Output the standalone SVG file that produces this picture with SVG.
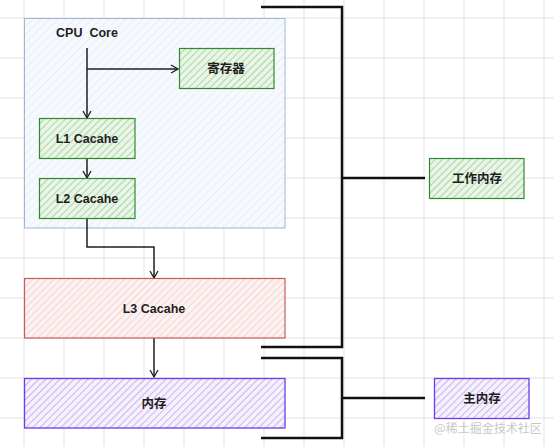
<svg xmlns="http://www.w3.org/2000/svg" width="554" height="446" viewBox="0 0 554 446">
<defs>
<style>
.grid{stroke:#e3e3e3;stroke-width:1}
.lbl{font-family:"Liberation Sans","Noto Sans CJK SC",sans-serif;font-size:12.5px;font-weight:bold;fill:#1e1e1e;text-anchor:middle;dominant-baseline:central}
.arr{fill:none;stroke:#1e1e1e;stroke-width:1.5;marker-end:url(#ah)}
.br{fill:none;stroke:#111;stroke-width:2.5;stroke-linejoin:miter}
</style>
<pattern id="hb" width="6" height="6" patternUnits="userSpaceOnUse" patternTransform="rotate(45)"><rect width="6" height="6" fill="#f6f9fd"/><line x1="0" y1="0" x2="0" y2="6" stroke="#e4ecf6" stroke-width="1.5"/></pattern>
<pattern id="hg" width="5" height="5" patternUnits="userSpaceOnUse" patternTransform="rotate(45)"><rect width="5" height="5" fill="#e9f5e6"/><line x1="0" y1="0" x2="0" y2="5" stroke="#92c98a" stroke-width="1.4"/></pattern>
<pattern id="hr" width="5" height="5" patternUnits="userSpaceOnUse" patternTransform="rotate(45)"><rect width="5" height="5" fill="#fdf2f2"/><line x1="0" y1="0" x2="0" y2="5" stroke="#f1c2c2" stroke-width="1.3"/></pattern>
<pattern id="hp" width="5" height="5" patternUnits="userSpaceOnUse" patternTransform="rotate(45)"><rect width="5" height="5" fill="#f6f0fd"/><line x1="0" y1="0" x2="0" y2="5" stroke="#b49af0" stroke-width="1.4"/></pattern>
<marker id="ah" markerWidth="10" markerHeight="10" refX="8" refY="5" orient="auto" markerUnits="userSpaceOnUse"><path d="M1,1 L8,5 L1,9" fill="none" stroke="#1e1e1e" stroke-width="1.3"/></marker>
</defs>
<rect width="554" height="446" fill="#fff"/>
<g id="grid">
<path class="grid" d="M24,0V446M64,0V446M104,0V446M144,0V446M184,0V446M224,0V446M264,0V446M304,0V446M344,0V446M384,0V446M424,0V446M464,0V446M504,0V446M544,0V446M0,18H554M0,58H554M0,98H554M0,138H554M0,178H554M0,218H554M0,258H554M0,298H554M0,338H554M0,378H554M0,418H554"/>
</g>
<g id="cpu">
<rect x="24.5" y="18.5" width="260.5" height="209.5" fill="url(#hb)" stroke="#9fb6d6" stroke-width="1"/>
<text class="lbl" x="87" y="33" xml:space="preserve" style="white-space:pre">CPU  Core</text>
</g>
<g id="connectors">
<path class="arr" d="M87,48V118"/>
<path class="arr" d="M87,69H178"/>
<path class="arr" d="M87,158V178"/>
<path class="arr" d="M87,218V247H154V278"/>
<path class="arr" d="M154,338V377"/>
<path class="br" d="M261,7H342V347H261M342,178H425"/>
<path class="br" d="M261,358H342V438H261M342,398H425"/>
</g>
<g id="reg">
<rect x="179.5" y="48.5" width="94.5" height="40" fill="url(#hg)" stroke="#2f8a2f" stroke-width="1.2"/>
<text class="lbl" x="226" y="69">寄存器</text>
</g>
<g id="l1">
<rect x="39.5" y="118.5" width="95.5" height="40" fill="url(#hg)" stroke="#2f8a2f" stroke-width="1.2"/>
<text class="lbl" x="87" y="139">L1 Cacahe</text>
</g>
<g id="l2">
<rect x="39.5" y="178.5" width="95.5" height="40" fill="url(#hg)" stroke="#2f8a2f" stroke-width="1.2"/>
<text class="lbl" x="87" y="199">L2 Cacahe</text>
</g>
<g id="l3">
<rect x="24.5" y="278.5" width="260.5" height="59.5" fill="url(#hr)" stroke="#c95a5a" stroke-width="1.2"/>
<text class="lbl" x="154" y="309">L3 Cacahe</text>
</g>
<g id="mem">
<rect x="24.5" y="378.5" width="260.5" height="49.5" fill="url(#hp)" stroke="#6a3de8" stroke-width="1.3"/>
<text class="lbl" x="154" y="404">内存</text>
</g>
<g id="work">
<rect x="429.5" y="158.5" width="94.5" height="40" fill="url(#hg)" stroke="#2f8a2f" stroke-width="1.2"/>
<text class="lbl" x="477" y="179">工作内存</text>
</g>
<g id="main">
<rect x="434.5" y="378.5" width="94.5" height="40" fill="url(#hp)" stroke="#6a3de8" stroke-width="1.3"/>
<text class="lbl" x="482" y="399">主内存</text>
</g>
<text x="488" y="427" font-family="'Noto Sans CJK SC','Liberation Sans',sans-serif" font-size="12" fill="#c8c8c8" text-anchor="middle" dominant-baseline="central">@稀土掘金技术社区</text>
</svg>
